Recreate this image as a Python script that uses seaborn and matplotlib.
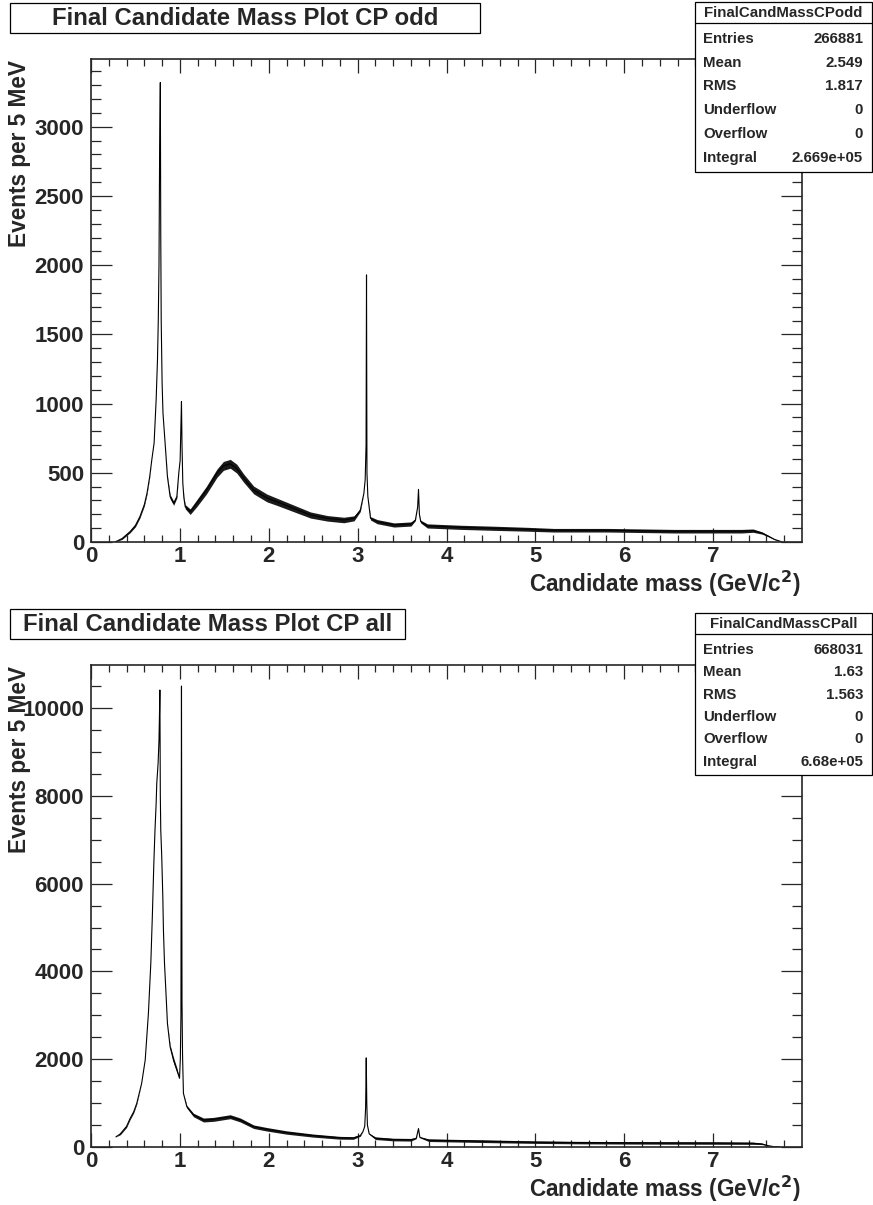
import numpy as np
import pandas as pd
import matplotlib
matplotlib.use("Agg")
import matplotlib.pyplot as plt
from matplotlib.patches import Rectangle
from matplotlib.lines import Line2D
from matplotlib.ticker import MultipleLocator, FixedLocator
import seaborn as sns

# ---- CP-odd candidates: mass (GeV/c^2), events per 5 MeV, half-width of bin scatter
mass_odd = [0.27, 0.35, 0.44, 0.50, 0.55, 0.60, 0.63, 0.66, 0.684, 0.71,
            0.733, 0.748, 0.757, 0.765, 0.772, 0.780, 0.785, 0.790, 0.800, 0.810,
            0.834, 0.860, 0.890, 0.930, 0.966, 0.988, 1.003, 1.012, 1.018, 1.024,
            1.033, 1.045, 1.06, 1.116, 1.19, 1.30, 1.417, 1.49, 1.567, 1.64,
            1.717, 1.83, 1.98, 2.09, 2.28, 2.47, 2.66, 2.845, 2.96, 3.03,
            3.07, 3.085, 3.095, 3.100, 3.105, 3.115, 3.13, 3.145, 3.22, 3.41,
            3.60, 3.65, 3.675, 3.685, 3.695, 3.71, 3.785, 4.16, 4.54, 4.91,
            5.21, 5.81, 6.56, 7.32, 7.45, 7.55, 7.62, 7.69, 7.77]
events_odd = [0, 25, 75, 120, 183, 270, 352, 470, 593, 715,
              1027, 1316, 1600, 2000, 2800, 3320, 2200, 1600, 1150, 930,
              713, 472, 328, 280, 328, 500, 590, 850, 1015, 700,
              426, 320, 255, 219, 280, 376, 497, 550, 565, 530,
              462, 376, 318, 291, 243, 195, 171, 159, 171, 230,
              350, 450, 700, 1930, 500, 330, 250, 171, 147, 123,
              130, 159, 250, 380, 200, 147, 116, 106, 99, 92,
              85, 85, 78, 78, 82, 65, 43, 19, 2]
scatter_odd = [0, 6, 8, 10, 10, 10, 8, 5, 0, 0,
               0, 0, 0, 0, 0, 0, 0, 0, 0, 0,
               0, 5, 15, 15, 10, 0, 0, 0, 0, 0,
               0, 10, 15, 20, 25, 28, 30, 32, 32, 32,
               30, 28, 28, 26, 24, 22, 20, 20, 18, 10,
               0, 0, 0, 0, 0, 0, 5, 12, 15, 15,
               15, 5, 0, 0, 0, 10, 15, 15, 15, 14,
               13, 13, 13, 13, 12, 8, 5, 2, 0]

# ---- all candidates
mass_all = [0.28, 0.33, 0.40, 0.44, 0.48, 0.515, 0.57, 0.61, 0.646, 0.673,
            0.69, 0.707, 0.72, 0.733, 0.74, 0.755, 0.765, 0.77, 0.775, 0.78,
            0.785, 0.796, 0.808, 0.815, 0.827, 0.842, 0.86, 0.89, 0.928, 0.966,
            0.996, 1.005, 1.012, 1.018, 1.024, 1.03, 1.04, 1.078, 1.153, 1.266,
            1.38, 1.567, 1.68, 1.83, 1.98, 2.2, 2.5, 2.8, 2.95, 3.03,
            3.06, 3.08, 3.09, 3.097, 3.103, 3.11, 3.13, 3.2, 3.4, 3.6,
            3.66, 3.685, 3.70, 3.8, 4.2, 4.6, 5.0, 5.5, 6.0, 6.5,
            7.0, 7.45, 7.55, 7.62, 7.69, 7.75]
events_all = [230, 300, 470, 650, 800, 995, 1450, 1982, 3045, 4184,
              5246, 6462, 7221, 7829, 8284, 8740, 9271, 9802, 10410, 8000,
              7221, 6613, 5702, 4943, 4184, 3576, 2817, 2285, 1982, 1754,
              1565, 2000, 3000, 10500, 3300, 2100, 1223, 918, 729, 615,
              630, 690, 615, 462, 403, 330, 260, 210, 205, 260,
              350, 470, 900, 2030, 1000, 500, 300, 200, 170, 165,
              200, 420, 220, 155, 140, 125, 110, 100, 95, 92,
              90, 85, 70, 30, 5, 0]
scatter_all = [0, 20, 25, 25, 25, 20, 0, 0, 0, 0,
               0, 0, 0, 0, 0, 0, 0, 0, 0, 0,
               0, 0, 0, 0, 0, 0, 0, 40, 60, 50,
               0, 0, 0, 0, 0, 0, 0, 30, 40, 45,
               45, 45, 45, 40, 40, 38, 35, 32, 30, 15,
               0, 0, 0, 0, 0, 0, 10, 30, 30, 30,
               10, 0, 10, 30, 30, 30, 28, 28, 28, 28,
               28, 25, 15, 5, 0, 0]

stats_odd = [("Entries", "266881"), ("Mean", "2.549"), ("RMS", "1.817"),
             ("Underflow", "0"), ("Overflow", "0"), ("Integral", "2.669e+05")]
stats_all = [("Entries", "668031"), ("Mean", "1.63"), ("RMS", "1.563"),
             ("Underflow", "0"), ("Overflow", "0"), ("Integral", "6.68e+05")]

sns.set_style("ticks")
plt.rcParams["font.family"] = ["Liberation Sans", "DejaVu Sans"]
plt.rcParams["font.weight"] = "bold"

W, H = 873, 1205
fig = plt.figure(figsize=(W / 100, H / 100), dpi=100)


def fx(px):
    return px / W


def fy(py):
    return 1 - py / H


def draw_panel(top, bottom, mass, events, scatter, ymax, ymajor, yminor,
               title, title_right, stat_name, stats, stat_top, stat_bottom):
    ax = fig.add_axes([fx(91), fy(bottom), fx(802) - fx(91), (bottom - top) / H])
    df = pd.DataFrame({"mass": mass, "events": events, "scatter": scatter})
    lo = df["events"] - df["scatter"]
    hi = df["events"] + df["scatter"]
    ax.fill_between(df["mass"], lo.clip(lower=0), hi, color="#1a1a1a", lw=0)
    sns.lineplot(data=df, x="mass", y="events", ax=ax, color="black",
                 lw=0.8, sort=False, estimator=None)
    ax.set_xlim(0, 8.0)
    ax.set_ylim(0, ymax)
    ax.xaxis.set_major_locator(FixedLocator(range(0, 8)))
    ax.xaxis.set_minor_locator(FixedLocator(np.arange(0.2, 7.81, 0.2)))
    ax.yaxis.set_major_locator(MultipleLocator(ymajor))
    ax.yaxis.set_minor_locator(MultipleLocator(yminor))
    ax.set_xlabel("")
    ax.set_ylabel("")
    for s in ax.spines.values():
        s.set_linewidth(1.2)
        s.set_visible(True)
    ax.tick_params(axis="x", which="major", direction="in", top=True,
                   length=10, width=0.9, labelsize=16, pad=3)
    ax.tick_params(axis="x", which="minor", direction="in", top=True,
                   length=5, width=0.9)
    ax.tick_params(axis="y", which="major", direction="in", right=True,
                   length=15, width=0.9, labelsize=16, pad=5)
    ax.tick_params(axis="y", which="minor", direction="in", right=True,
                   length=7.5, width=0.9)
    for lab in ax.get_xticklabels() + ax.get_yticklabels():
        lab.set_fontweight("bold")
    if ax.get_legend() is not None:
        ax.get_legend().remove()

    # axis titles
    fig.text(fx(801), fy(bottom + 42), "Candidate mass (GeV/c$\\mathbf{^2}$)",
             ha="right", va="center", fontsize=16.3, fontweight="bold")
    fig.text(fx(19.5), fy(top + 1), "Events per 5 MeV", rotation=90,
             ha="center", va="top", fontsize=16.3, fontweight="bold")

    # title box
    ty0 = top - 56
    fig.patches.append(Rectangle((fx(10), fy(ty0 + 30)), fx(title_right) - fx(10),
                                 30 / H, transform=fig.transFigure,
                                 fill=False, ec="black", lw=0.9))
    fig.text(fx((10 + title_right) / 2), fy(ty0 + 15.5), title, ha="center",
             va="center", fontsize=17.2, fontweight="bold")

    # statistics box
    fig.patches.append(Rectangle((fx(695), fy(stat_bottom)), fx(872) - fx(695),
                                 (stat_bottom - stat_top) / H,
                                 transform=fig.transFigure, fc="white",
                                 ec="black", lw=0.9, zorder=5))
    fig.lines.append(Line2D([fx(695), fx(872)], [fy(stat_top + 21), fy(stat_top + 21)],
                            transform=fig.transFigure, color="black", lw=0.9, zorder=6))
    fig.text(fx(783.5), fy(stat_top + 11), stat_name, ha="center", va="center",
             fontsize=10.8, fontweight="bold", zorder=7)
    step = (stat_bottom - stat_top - 37) / 5.6
    for i, (k, v) in enumerate(stats):
        yy = stat_top + 37 + i * step
        fig.text(fx(703), fy(yy), k, ha="left", va="center", fontsize=10.8,
                 fontweight="bold", zorder=7)
        fig.text(fx(863), fy(yy), v, ha="right", va="center", fontsize=10.8,
                 fontweight="bold", zorder=7)
    return ax


draw_panel(59, 542, mass_odd, events_odd, scatter_odd, 3490, 500, 100,
           "Final Candidate Mass Plot CP odd", 480, "FinalCandMassCPodd",
           stats_odd, 2, 172)
draw_panel(665, 1147, mass_all, events_all, scatter_all, 10980, 2000, 500,
           "Final Candidate Mass Plot CP all", 405, "FinalCandMassCPall",
           stats_all, 613, 775)

fig.savefig("out.png", dpi=100, facecolor="white")
